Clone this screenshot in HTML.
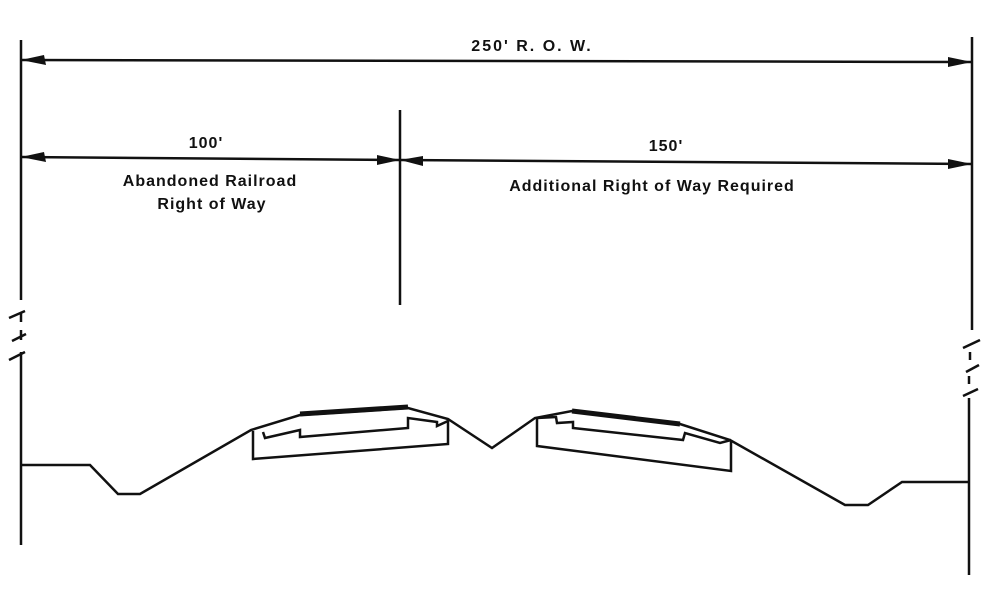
<!DOCTYPE html>
<html><head><style>
html,body{margin:0;padding:0;background:#fff;}
svg{display:block}
text{font-family:"Liberation Sans",Arial,sans-serif;font-weight:bold;fill:#111}
</style></head><body>
<svg width="1000" height="600" viewBox="0 0 1000 600">
<g stroke="#111" stroke-width="2.5" fill="none">
<line x1="21" y1="40" x2="21" y2="300"/>
<line x1="21" y1="312" x2="21" y2="322"/>
<line x1="21" y1="330" x2="21" y2="340"/>
<line x1="21" y1="352" x2="21" y2="545"/>
<line x1="9" y1="318" x2="25" y2="311"/>
<line x1="12" y1="341" x2="26" y2="334"/>
<line x1="9" y1="360" x2="25" y2="352"/>
<line x1="972" y1="37" x2="972" y2="330"/>
<line x1="970" y1="352" x2="970" y2="360"/>
<line x1="969" y1="376" x2="969" y2="384"/>
<line x1="969" y1="398" x2="969" y2="575"/>
<line x1="963" y1="348" x2="980" y2="340"/>
<line x1="966" y1="372" x2="979" y2="365"/>
<line x1="963" y1="396" x2="978" y2="389"/>
<line x1="400" y1="110" x2="400" y2="305"/>
<line x1="21" y1="60" x2="972" y2="62"/>
<line x1="21" y1="157" x2="400" y2="160"/>
<line x1="400" y1="160" x2="972" y2="164"/>
<polyline points="20,465 90,465 118,494 140,494 251,430 300,415 408,408 448,419 492,448 535,418 572,411 680,424 730,440 845,505 868,505 902,482 970,482"/>
<polyline points="253,431 253,459 448,444 448,419"/>
<polyline points="263,432 265,438 300,430 300,437 408,428 408,418 437,422 437,426 448,421"/>
<polyline points="537,418 537,446 731,471 731,440"/>
<polyline points="537,418 556,417 557,423 573,422 573,428 683,440 685,433 720,443 731,440"/>
</g>
<g stroke="#111" stroke-width="5" fill="none">
<line x1="300" y1="414" x2="408" y2="407"/>
<line x1="572" y1="411" x2="680" y2="424"/>
</g>
<g fill="#111">
<polygon points="21,60 44,55 46,65"/>
<polygon points="972,62 948,57 948,67"/>
<polygon points="21,157 44,152 46,162"/>
<polygon points="400,160 377,155 377,165"/>
<polygon points="400,160 423,156 423,166"/>
<polygon points="972,164 948,159 948,169"/>
</g>
<text x="532" y="51" font-size="16" text-anchor="middle" letter-spacing="2">250' R. O. W.</text>
<text x="206" y="148" font-size="16" text-anchor="middle" letter-spacing="1">100'</text>
<text x="666" y="151" font-size="16" text-anchor="middle" letter-spacing="1">150'</text>
<text x="210" y="186" font-size="16" text-anchor="middle" letter-spacing="1">Abandoned Railroad</text>
<text x="212" y="209" font-size="16" text-anchor="middle" letter-spacing="1">Right of Way</text>
<text x="652" y="191" font-size="16" text-anchor="middle" letter-spacing="1">Additional Right of Way  Required</text>
</svg>
</body></html>
